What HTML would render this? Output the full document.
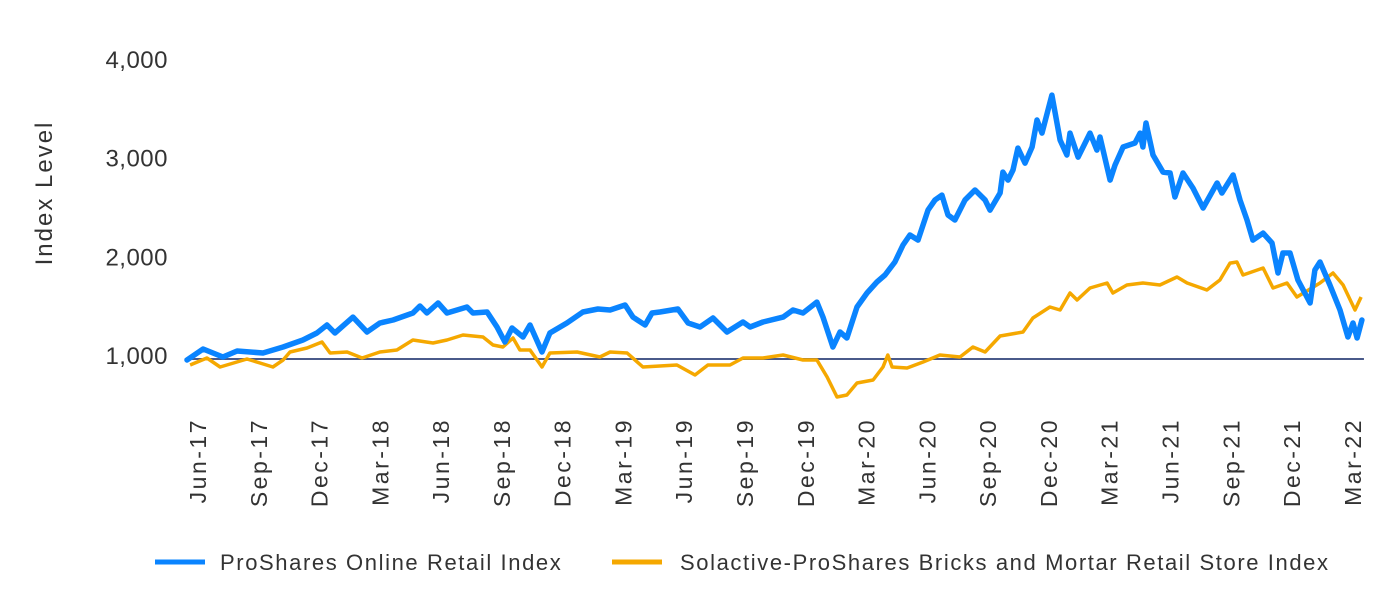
<!DOCTYPE html>
<html><head><meta charset="utf-8">
<style>
html,body{margin:0;padding:0;background:#fff;}
svg{display:block;font-family:"Liberation Sans",sans-serif;}
</style></head>
<body>
<svg id="chart" width="1400" height="602" viewBox="0 0 1400 602" xmlns="http://www.w3.org/2000/svg">
<g id="yaxis"></g>
<g id="xaxis"></g>
<line id="base" stroke="#4a5a8a" stroke-width="2"/>
<g id="series"></g>
<text transform="translate(52,193) rotate(-90)" text-anchor="middle" font-size="24" letter-spacing="2" fill="#333">Index Level</text>
<g>
<line x1="155" y1="562" x2="205" y2="562" stroke="#0a84ff" stroke-width="5"/>
<text x="220" y="570" font-size="22" letter-spacing="1.6" fill="#333">ProShares Online Retail Index</text>
<line x1="612" y1="562" x2="662" y2="562" stroke="#f5a800" stroke-width="5"/>
<text x="680" y="570" font-size="22" letter-spacing="1.6" fill="#333">Solactive-ProShares Bricks and Mortar Retail Store Index</text>
</g>
</svg>
<script>
// months since Jun-2017
const onlineT = [-0.59,0.2,1.18,1.88,3.16,4.15,5.13,5.82,6.32,6.71,7.6,8.29,8.93,9.58,10.56,10.91,11.25,11.8,12.24,13.23,13.52,14.22,14.71,15.1,15.45,15.99,16.34,16.93,17.32,18.16,18.95,19.69,20.29,21.03,21.42,22.02,22.36,22.75,23.64,24.14,24.73,25.37,26.06,26.85,27.2,27.84,28.83,29.32,29.81,30.5,30.8,31.29,31.64,31.98,32.48,32.97,33.46,33.86,34.35,34.75,35.09,35.49,35.98,36.33,36.67,36.97,37.31,37.81,38.3,38.8,39.04,39.54,39.68,39.93,40.18,40.42,40.77,41.12,41.36,41.61,42.1,42.5,42.84,42.99,43.39,43.98,44.32,44.47,44.97,45.21,45.61,46.2,46.45,46.59,46.74,47.09,47.58,47.93,48.17,48.57,49.06,49.56,50.25,50.49,51.04,51.38,51.73,52.02,52.52,52.96,53.26,53.5,53.85,54.24,54.84,55.08,55.33,55.82,56.32,56.71,56.96,57.16,57.4];
const onlineV = [990,1101,1020,1081,1061,1122,1192,1263,1344,1263,1425,1274,1365,1395,1466,1537,1466,1567,1466,1527,1466,1476,1324,1172,1314,1223,1344,1071,1263,1365,1476,1507,1496,1547,1425,1344,1466,1476,1507,1365,1324,1415,1274,1375,1324,1375,1425,1496,1466,1577,1425,1122,1274,1213,1527,1669,1780,1851,1983,2155,2256,2205,2509,2611,2661,2459,2408,2611,2712,2611,2509,2682,2894,2813,2915,3137,2985,3148,3421,3289,3674,3218,3067,3289,3046,3289,3117,3249,2813,2965,3148,3188,3289,3148,3391,3067,2894,2884,2641,2884,2732,2530,2783,2682,2864,2611,2408,2205,2276,2175,1871,2074,2074,1800,1567,1902,1983,1750,1496,1223,1365,1213,1395];
const bricksT = [-0.44,0.39,1.04,2.37,3.01,3.65,4.15,4.49,5.33,6.07,6.47,7.31,8.05,8.93,9.77,10.56,11.55,12.24,13.03,14.02,14.51,15.0,15.5,15.84,16.34,16.93,17.32,18.66,19.79,20.29,21.13,21.91,23.59,24.48,25.12,26.21,26.85,27.84,28.83,29.81,30.5,31.0,31.49,31.98,32.48,33.27,33.76,34.0,34.21,34.95,35.74,36.57,37.56,38.2,38.8,39.54,40.67,41.16,42.0,42.5,42.99,43.34,43.98,44.82,45.11,45.8,46.59,47.43,48.27,48.77,49.75,50.39,50.89,51.23,51.53,52.52,53.01,53.7,54.19,55.33,55.97,56.47,57.06,57.36];
const bricksV = [939,1010,919,1000,959,919,990,1071,1111,1172,1061,1071,1010,1071,1091,1192,1162,1192,1243,1223,1142,1122,1213,1091,1091,919,1061,1071,1020,1071,1061,919,939,838,939,939,1010,1010,1041,990,990,818,615,635,757,787,919,1041,919,909,970,1041,1020,1122,1071,1233,1274,1415,1527,1496,1669,1598,1719,1770,1669,1750,1770,1750,1831,1770,1699,1800,1972,1983,1851,1922,1719,1770,1628,1770,1871,1750,1496,1628];
const yTicks = [1000,2000,3000,4000];
const yTickLabels = ["1,000","2,000","3,000","4,000"];
const xTickLabels = ["Jun-17","Sep-17","Dec-17","Mar-18","Jun-18","Sep-18","Dec-18","Mar-19","Jun-19","Sep-19","Dec-19","Mar-20","Jun-20","Sep-20","Dec-20","Mar-21","Jun-21","Sep-21","Dec-21","Mar-22"];

const NS="http://www.w3.org/2000/svg";
function xScale(t){return 199 + t*20.26;}
function yScale(v){return 359 - (v-1000)*0.0987;}
function mk(tag,attrs,parent){const e=document.createElementNS(NS,tag);for(const k in attrs)e.setAttribute(k,attrs[k]);parent.appendChild(e);return e;}

const ya=document.getElementById('yaxis');
yTicks.forEach((v,i)=>{
  const t=mk('text',{x:168,y:yScale(v)+5,'text-anchor':'end','font-size':24,'letter-spacing':0.5,fill:'#333'},ya);
  
  
  t.textContent=yTickLabels[i];
});
const xa=document.getElementById('xaxis');
xTickLabels.forEach((s,i)=>{
  const x=xScale(i*3)+7;
  const t=mk('text',{transform:`translate(${x},418) rotate(-90)`,'text-anchor':'end','font-size':23,'letter-spacing':2.5,fill:'#333'},xa);
  
  
  t.textContent=s;
});
const b=document.getElementById('base');
b.setAttribute('x1',xScale(-0.7));b.setAttribute('x2',xScale(57.5));
b.setAttribute('y1',yScale(1000));b.setAttribute('y2',yScale(1000));

const sg=document.getElementById('series');
function pathD(T,V){return T.map((t,i)=>(i?'L':'M')+xScale(t).toFixed(1)+','+yScale(V[i]).toFixed(1)).join('');}
const p2=mk('path',{d:pathD(bricksT,bricksV),fill:'none',stroke:'#f5a800','stroke-width':3.5,'stroke-linejoin':'round'},sg);


const p1=mk('path',{d:pathD(onlineT,onlineV),fill:'none',stroke:'#0a84ff','stroke-width':5.5,'stroke-linejoin':'round','stroke-linecap':'round'},sg);


</script>
</body></html>
